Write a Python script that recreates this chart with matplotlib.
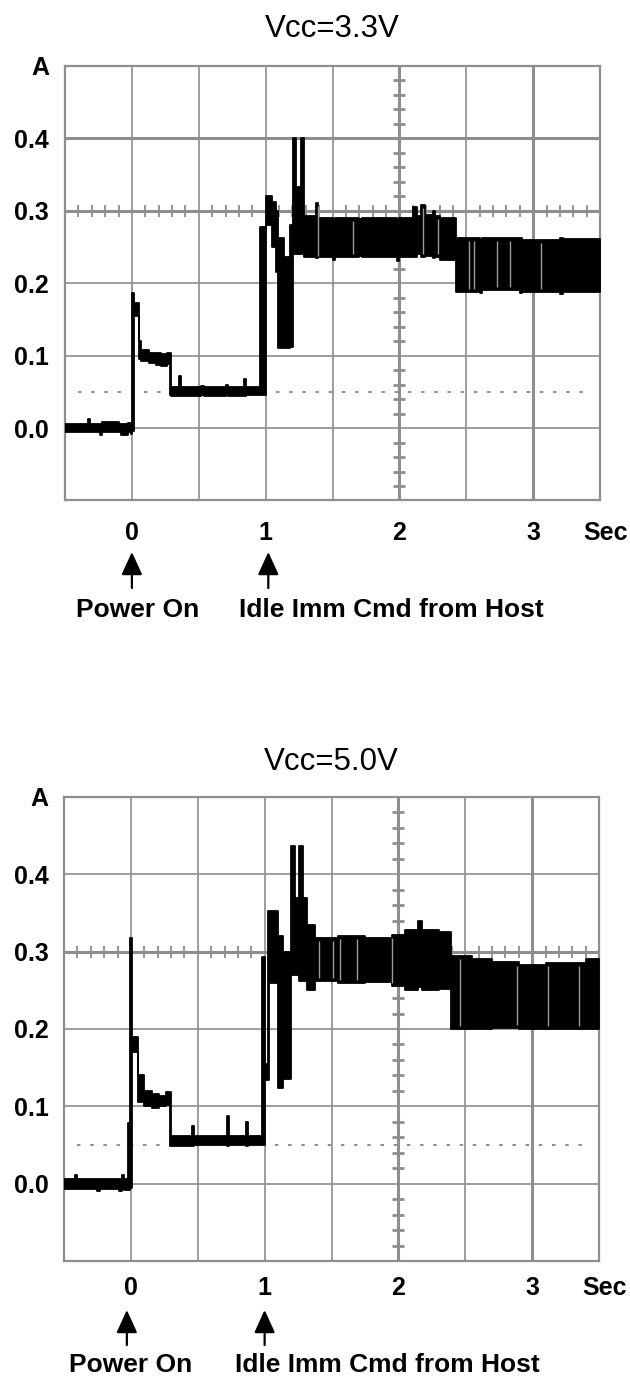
import matplotlib
matplotlib.use("Agg")
import matplotlib.pyplot as plt
import numpy as np

plt.rcParams['font.family'] = ['Liberation Sans', 'DejaVu Sans']
plt.rcParams['lines.scale_dashes'] = False

# ---------------- data ----------------
x_ticks = [0, 1, 2, 3]
x_tick_labels = ['0', '1', '2', '3']
y_ticks = [0.0, 0.1, 0.2, 0.3, 0.4, 0.5]
y_tick_labels = ['0.0', '0.1', '0.2', '0.3', '0.4', 'A']
x_unit = 'Sec'
grid_x = [-0.5, 0.0, 0.5, 1.0, 1.5, 2.0, 2.5, 3.0, 3.5]
grid_y = [-0.1, 0.0, 0.1, 0.2, 0.3, 0.4, 0.5]
ref_level = 0.05
events = ['Power On', 'Idle Imm Cmd from Host']

# Vcc = 3.3 V : step envelope of the current trace (time, low, high)
t_33 = [-0.50, -0.33, -0.31, -0.24, -0.22, -0.10, -0.08, -0.03, -0.01,
        0.00, 0.015, 0.055, 0.07, 0.13, 0.18, 0.22, 0.26, 0.285,
        0.295, 0.355, 0.37, 0.52, 0.54, 0.70, 0.72, 0.84, 0.855, 0.96,
        1.003, 1.05, 1.08, 1.095, 1.14, 1.18, 1.205, 1.23, 1.265, 1.29,
        1.38, 1.395, 1.50, 1.52, 1.70, 1.72, 1.98, 2.00, 2.10, 2.13, 2.16,
        2.19, 2.25, 2.27, 2.30, 2.42, 2.60, 2.62, 2.90, 2.92, 3.20, 3.22, 3.50]
lo_33 = [-0.006, -0.006, -0.006, -0.009, -0.006, -0.006, -0.009, -0.006, -0.008,
         -0.004, 0.154, 0.095, 0.092, 0.090, 0.087, 0.085, 0.088, 0.045,
         0.044, 0.044, 0.044, 0.045, 0.044, 0.045, 0.044, 0.044, 0.045, 0.045,
         0.280, 0.250, 0.215, 0.110, 0.110, 0.112, 0.240, 0.240, 0.240, 0.236,
         0.234, 0.236, 0.232, 0.236, 0.237, 0.236, 0.230, 0.236, 0.236, 0.240, 0.236,
         0.238, 0.234, 0.236, 0.232, 0.188, 0.186, 0.190, 0.186, 0.188, 0.185, 0.188, 0.188]
hi_33 = [0.006, 0.012, 0.006, 0.006, 0.009, 0.006, 0.006, 0.007, 0.006,
         0.186, 0.172, 0.120, 0.108, 0.104, 0.103, 0.102, 0.104, 0.104,
         0.056, 0.072, 0.056, 0.058, 0.056, 0.060, 0.056, 0.068, 0.056, 0.277,
         0.320, 0.312, 0.300, 0.262, 0.236, 0.280, 0.400, 0.332, 0.400, 0.292,
         0.310, 0.290, 0.289, 0.290, 0.288, 0.290, 0.289, 0.290, 0.305, 0.292, 0.308,
         0.294, 0.300, 0.292, 0.290, 0.262, 0.260, 0.262, 0.262, 0.260, 0.262, 0.261, 0.261]
gaps_33 = [1.39, 1.65, 2.18, 2.29, 2.52, 2.56, 2.73, 2.83, 3.06]

# Vcc = 5.0 V
t_50 = [-0.50, -0.42, -0.40, -0.25, -0.23, -0.09, -0.07, -0.05, -0.02, -0.006,
        0.012, 0.055, 0.10, 0.16, 0.21, 0.26, 0.29, 0.30, 0.455, 0.47,
        0.72, 0.735, 0.86, 0.875, 0.98, 1.00, 1.025, 1.035, 1.10, 1.14,
        1.20, 1.23, 1.26, 1.29, 1.32, 1.38, 1.55, 1.75, 1.95, 2.05,
        2.15, 2.18, 2.30, 2.39, 2.55, 2.70, 2.90, 3.10, 3.40, 3.50]
lo_50 = [-0.007, -0.007, -0.007, -0.010, -0.007, -0.010, -0.007, -0.008, -0.008, -0.006,
         0.170, 0.105, 0.100, 0.098, 0.100, 0.102, 0.049, 0.049, 0.049, 0.050,
         0.049, 0.050, 0.049, 0.050, 0.050, 0.134, 0.134, 0.260, 0.124, 0.135,
         0.270, 0.270, 0.262, 0.262, 0.250, 0.262, 0.260, 0.261, 0.255, 0.250,
         0.254, 0.250, 0.252, 0.200, 0.200, 0.201, 0.200, 0.200, 0.200, 0.200]
hi_50 = [0.006, 0.011, 0.006, 0.006, 0.006, 0.006, 0.011, 0.006, 0.078, 0.318,
         0.190, 0.140, 0.120, 0.116, 0.114, 0.118, 0.118, 0.062, 0.075, 0.062,
         0.087, 0.062, 0.080, 0.062, 0.293, 0.155, 0.352, 0.352, 0.320, 0.300,
         0.436, 0.370, 0.436, 0.370, 0.335, 0.318, 0.320, 0.318, 0.322, 0.328,
         0.340, 0.328, 0.325, 0.294, 0.290, 0.286, 0.283, 0.285, 0.290, 0.290]
gaps_50 = [1.41, 1.51, 1.56, 1.69, 1.95, 2.46, 2.89, 3.12, 3.35]

# ---------------- figure ----------------
W, H = 630, 1379
fig = plt.figure(figsize=(W / 100, H / 100), dpi=100)
GRID = '#8e8e8e'
BOLD = dict(fontweight='bold', fontsize=18)


def add_axes(l, r, t, b):
    return fig.add_axes([l / W, 1 - b / H, (r - l) / W, (b - t) / H])


def draw(ax, title, title_pad, t, lo, hi, gaps, thick_x, thick_y, xpad, ypad,
         arrow_x, arrow_tip, arrow_tail, text_y, text_x):
    ax.set_xlim(-0.5, 3.5)
    ax.set_ylim(-0.1, 0.5)
    for s in ax.spines.values():
        s.set_color(GRID)
        s.set_linewidth(1.6)
    for gx in grid_x[1:-1]:
        ax.axvline(gx, color=GRID, lw=2.2 if gx in thick_x else 1.2, zorder=1)
    for gy in grid_y[1:-1]:
        ax.axhline(gy, color=GRID, lw=2.2 if gy in thick_y else 1.2, zorder=1)
    # small division marks on the centre cross
    mx = [v / 10 for v in range(-4, 35) if v % 5 != 0]
    ax.plot(mx, [0.3] * len(mx), ls='none', marker='|', ms=9, mew=1.3,
            color=GRID, zorder=1)
    my = [v / 50 for v in range(-4, 25) if v % 5 != 0]
    ax.plot([2.0] * len(my), my, ls='none', marker='_', ms=9, mew=2.0,
            color=GRID, zorder=1)
    ax.plot([-0.4, 3.4], [ref_level, ref_level], color=GRID, lw=1.4,
            dashes=(2.5, 7), zorder=1)

    ax.fill_between(t, lo, hi, step='post', facecolor='black',
                    edgecolor='black', linewidth=1.3, zorder=3)
    ta = np.asarray(t)
    for g in gaps:
        i = np.searchsorted(ta, g, side='right') - 1
        ax.vlines(g, lo[i] + 0.004, hi[i] - 0.004, color='#9a9a9a', lw=1.0, zorder=4)

    ax.set_xticks(x_ticks, x_tick_labels, **BOLD)
    ax.set_yticks(y_ticks, y_tick_labels, **BOLD)
    ax.tick_params(axis='x', length=0, pad=xpad)
    ax.tick_params(axis='y', length=0, pad=ypad)
    ax.annotate(x_unit, xy=(3.5, 0), xycoords=('data', 'axes fraction'),
                xytext=(6, -xpad * 100 / 72), textcoords='offset pixels',
                ha='center', va='top', annotation_clip=False, **BOLD)
    ax.set_title(title, fontsize=22.5, pad=title_pad)

    for ax_x in arrow_x:
        ax.annotate('', xy=(ax_x, arrow_tip), xycoords=('data', 'figure pixels'),
                    xytext=(ax_x, arrow_tail), textcoords=('data', 'figure pixels'),
                    arrowprops=dict(arrowstyle='-|>,head_length=0.7,head_width=0.32',
                                    mutation_scale=20, color='black', lw=1.6,
                                    shrinkA=0, shrinkB=0),
                    annotation_clip=False)
    ax.annotate(events[0], xy=(text_x[0], text_y), xycoords=('data', 'figure pixels'),
                ha='center', va='baseline', fontsize=19, fontweight='bold',
                annotation_clip=False)
    ax.annotate(events[1], xy=(text_x[1], text_y), xycoords=('data', 'figure pixels'),
                ha='left', va='baseline', fontsize=19, fontweight='bold',
                annotation_clip=False)


ax1 = add_axes(65, 600, 65.7, 500.5)
draw(ax1, 'Vcc=3.3V', 21, t_33, lo_33, hi_33, gaps_33,
     thick_x=[2.0, 3.0], thick_y=[0.3, 0.4], xpad=15, ypad=11.5,
     arrow_x=[0.0, 1.02], arrow_tip=H - 552, arrow_tail=H - 588,
     text_y=H - 617, text_x=[0.046, 0.80])

ax2 = add_axes(64, 599, 797, 1261)
draw(ax2, 'Vcc=5.0V', 19.5, t_50, lo_50, hi_50, gaps_50,
     thick_x=[2.0, 3.0], thick_y=[0.3], xpad=10.5, ypad=11,
     arrow_x=[-0.03, 1.0], arrow_tip=H - 1310, arrow_tail=H - 1345,
     text_y=H - 1372, text_x=[0.0, 0.78])

fig.savefig('out.png', dpi=100)
